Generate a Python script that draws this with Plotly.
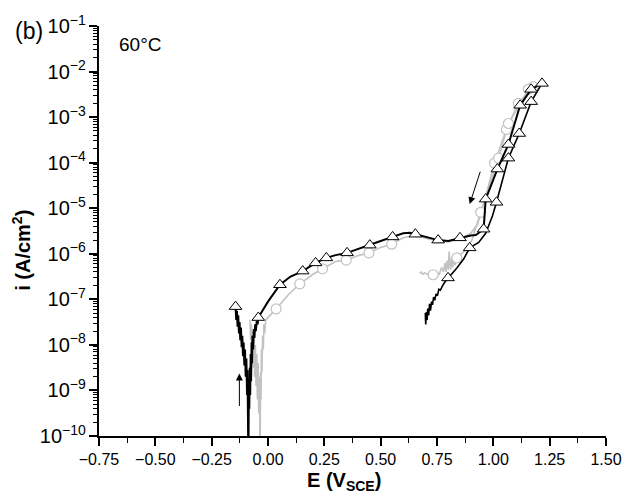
import numpy as np
import plotly.graph_objects as go

# ---------------- data (E in V_SCE, log10 of i in A/cm^2) ----------------
# black curve (triangles) - forward scan
E_black_fwd = [-0.144, -0.141, -0.138, -0.135, -0.132, -0.129, -0.126, -0.123, -0.120, -0.117,
               -0.114, -0.111, -0.108, -0.105, -0.102, -0.099, -0.096, -0.093, -0.091, -0.089,
               -0.087, -0.085, -0.083, -0.081, -0.079, -0.077, -0.075, -0.073, -0.071, -0.069,
               -0.066, -0.063, -0.060, -0.057, -0.054, -0.050, -0.046, -0.043,
               0.000, 0.053, 0.100, 0.154, 0.211, 0.259, 0.300, 0.351, 0.400, 0.452, 0.500,
               0.553, 0.600, 0.630, 0.654, 0.700, 0.755, 0.800, 0.852, 0.900, 0.922, 0.957,
               0.966, 1.018, 1.067, 1.119, 1.168, 1.216]
logi_black_fwd = [-7.16, -7.45, -7.25, -7.60, -7.35, -7.75, -7.50, -7.90, -7.62, -8.05,
                  -7.80, -8.25, -7.95, -8.45, -8.10, -8.70, -8.30, -9.10, -8.55, -9.60,
                  -10.6, -8.90, -9.40, -8.50, -9.10, -8.20, -8.80, -7.95, -8.40, -7.80,
                  -8.10, -7.65, -7.85, -7.55, -7.70, -7.48, -7.55, -7.40,
                  -7.05, -6.68, -6.50, -6.38, -6.20, -6.09, -6.03, -5.98, -5.90, -5.81, -5.72,
                  -5.63, -5.55, -5.54, -5.57, -5.64, -5.70, -5.72, -5.65, -5.60, -5.59, -5.46,
                  -4.80, -4.14, -3.60, -2.74, -2.39, -2.26]

# black curve - reverse scan
E_black_rev = [1.216, 1.168, 1.115, 1.067, 1.014, 0.996, 0.966, 0.935, 0.895, 0.869, 0.838,
               0.799, 0.785, 0.775, 0.765, 0.758, 0.752, 0.746, 0.740, 0.735, 0.730, 0.726,
               0.721, 0.717, 0.713, 0.709, 0.706, 0.703, 0.700, 0.698]
logi_black_rev = [-2.26, -2.66, -3.36, -3.90, -4.87, -5.17, -5.55, -5.75, -5.87, -6.11, -6.31,
                  -6.53, -6.62, -6.70, -6.80, -6.78, -6.92, -6.88, -7.02, -6.95, -7.12, -7.05,
                  -7.25, -7.10, -7.35, -7.20, -7.45, -7.28, -7.55, -7.30]

# triangle markers
E_tri = [-0.144, -0.043, 0.053, 0.154, 0.211, 0.259, 0.351, 0.452, 0.553, 0.654, 0.755, 0.852,
         0.957, 0.966, 1.018, 1.067, 1.119, 1.168, 1.216,
         1.168, 1.115, 1.067, 1.014, 0.895, 0.799]
logi_tri = [-7.16, -7.40, -6.68, -6.38, -6.20, -6.09, -5.98, -5.81, -5.63, -5.57, -5.70, -5.65,
            -5.46, -4.80, -4.14, -3.60, -2.74, -2.39, -2.26,
            -2.66, -3.36, -3.90, -4.87, -5.87, -6.53]

# grey curve (circles) - forward scan
E_grey_fwd = [-0.080, -0.077, -0.074, -0.071, -0.068, -0.065, -0.062, -0.059, -0.056, -0.053,
              -0.050, -0.047, -0.044, -0.041, -0.038, -0.035, -0.033, -0.031, -0.029, -0.027,
              -0.024, -0.021, -0.018, -0.015, -0.010, 0.000, 0.036, 0.090, 0.141, 0.200, 0.242,
              0.300, 0.347, 0.400, 0.448, 0.500, 0.549, 0.600, 0.650, 0.700, 0.750, 0.800,
              0.850, 0.900, 0.930, 0.960, 1.005, 1.058, 1.111, 1.177]
logi_grey_fwd = [-7.45, -7.90, -7.55, -8.20, -7.70, -8.50, -7.85, -8.70, -8.00, -8.90,
                 -8.20, -9.20, -8.40, -9.50, -8.70, -10.6, -8.60, -9.20, -8.10, -8.60,
                 -7.80, -8.10, -7.55, -7.75, -7.45, -7.40, -7.21, -6.90, -6.66, -6.45, -6.33,
                 -6.17, -6.14, -6.04, -5.98, -5.86, -5.79, -5.65, -5.60, -5.66, -5.72, -5.74,
                 -5.68, -5.55, -5.35, -4.85, -4.01, -3.27, -2.70, -2.33]

# grey curve - reverse scan
E_grey_rev = [1.177, 1.155, 1.067, 1.023, 0.944, 0.905, 0.870, 0.838, 0.830, 0.825, 0.820,
              0.815, 0.810, 0.804, 0.800, 0.795, 0.790, 0.785, 0.778, 0.770, 0.760, 0.750,
              0.740, 0.733, 0.720, 0.705, 0.695, 0.688, 0.680, 0.672]
logi_grey_rev = [-2.33, -2.39, -3.14, -3.90, -5.09, -5.70, -5.95, -6.09, -6.25, -6.05, -6.30,
                 -6.10, -6.35, -5.95, -6.35, -6.15, -6.40, -6.20, -6.40, -6.30, -6.45, -6.42,
                 -6.48, -6.46, -6.47, -6.44, -6.42, -6.45, -6.40, -6.43]

# circle markers
E_circ = [0.036, 0.141, 0.242, 0.347, 0.448, 0.549, 1.005, 1.058, 1.111, 1.177,
          1.155, 1.067, 1.023, 0.944, 0.838, 0.733]
logi_circ = [-7.21, -6.66, -6.33, -6.14, -5.98, -5.79, -4.01, -3.27, -2.70, -2.33,
             -2.39, -3.14, -3.90, -5.09, -6.09, -6.46]

x_ticks = [-0.75, -0.50, -0.25, 0.00, 0.25, 0.50, 0.75, 1.00, 1.25, 1.50]

# ---------------- figure ----------------
def cur(v):
    return [10 ** a for a in v]

BLACK = "#000000"
GREY = "#c2c2c2"
FONT = "Liberation Sans, Arial, Helvetica, sans-serif"

fig = go.Figure()
fig.add_trace(go.Scatter(x=E_grey_fwd, y=cur(logi_grey_fwd), mode="lines",
                         line=dict(color=GREY, width=1.6), showlegend=False))
fig.add_trace(go.Scatter(x=E_grey_rev, y=cur(logi_grey_rev), mode="lines",
                         line=dict(color=GREY, width=1.6), showlegend=False))
fig.add_trace(go.Scatter(x=E_circ, y=cur(logi_circ), mode="markers",
                         marker=dict(symbol="circle", size=10, color="white",
                                     line=dict(color=GREY, width=1.2)), showlegend=False))
fig.add_trace(go.Scatter(x=E_black_fwd, y=cur(logi_black_fwd), mode="lines",
                         line=dict(color=BLACK, width=2), showlegend=False))
fig.add_trace(go.Scatter(x=E_black_rev, y=cur(logi_black_rev), mode="lines",
                         line=dict(color=BLACK, width=1.6), showlegend=False))
fig.add_trace(go.Scatter(x=E_tri, y=cur(logi_tri), mode="markers",
                         marker=dict(symbol="triangle-up", size=11, color="white",
                                     line=dict(color=BLACK, width=1)), showlegend=False))

L, R, T, B = 99, 22, 24, 66
W, H = 634, 502
pw, ph = W - L - R, H - T - B

def px(x):
    return (x - L) / pw

def py(y):
    return (H - B - y) / ph

annotations = [
    dict(text="(b)", x=px(28), y=py(29), xref="paper", yref="paper", showarrow=False,
         font=dict(size=23, color="black", family=FONT), xanchor="center", yanchor="middle"),
    dict(text="60°C", x=px(140), y=py(43), xref="paper", yref="paper", showarrow=False,
         font=dict(size=19, color="black", family=FONT), xanchor="center", yanchor="middle"),
    dict(text="<b>E (V<sub>SCE</sub>)</b>", x=px(347), y=py(482), xref="paper", yref="paper",
         showarrow=False, font=dict(size=20, color="black", family=FONT),
         xanchor="center", yanchor="middle"),
    dict(text="<b>i (A/cm<sup>2</sup>)</b>", x=px(21), y=py(249), xref="paper", yref="paper",
         showarrow=False, textangle=-90, font=dict(size=20, color="black", family=FONT),
         xanchor="center", yanchor="middle"),
    # arrows
    dict(x=-0.127, y=-8.63, ax=-0.127, ay=-9.374, xref="x", yref="y", axref="x", ayref="y",
         showarrow=True, arrowhead=2, arrowsize=1.4, arrowwidth=1, arrowcolor="black", text=""),
    dict(x=0.895, y=-4.91, ax=0.944, ay=-4.166, xref="x", yref="y", axref="x", ayref="y",
         showarrow=True, arrowhead=2, arrowsize=1.4, arrowwidth=1, arrowcolor="black", text=""),
]

fig.update_layout(
    width=W, height=H,
    margin=dict(l=L, r=R, t=T, b=B, pad=0),
    plot_bgcolor="white", paper_bgcolor="white",
    font=dict(family=FONT, size=16, color="black"),
    annotations=annotations,
    showlegend=False,
)
fig.update_xaxes(range=[-0.75, 1.5], tickvals=x_ticks, tickformat=".2f",
                 showline=True, linewidth=2, linecolor="black", mirror=False,
                 ticks="outside", ticklen=8, tickwidth=1.5, tickcolor="black",
                 minor=dict(ticks="outside", ticklen=5, tickwidth=1.2, tickcolor="black", dtick=0.125, tick0=-0.75),
                 showgrid=False, zeroline=False, tickfont=dict(size=16))
fig.update_yaxes(type="log", range=[-10, -1], dtick=1, exponentformat="power",
                 showline=True, linewidth=2, linecolor="black", mirror=False,
                 ticks="outside", ticklen=8, tickwidth=1.5, tickcolor="black",
                 minor=dict(ticks="outside", ticklen=4, tickwidth=1, tickcolor="black", dtick="D1"),
                 showgrid=False, zeroline=False, tickfont=dict(size=16))

fig.write_html("out.html")
